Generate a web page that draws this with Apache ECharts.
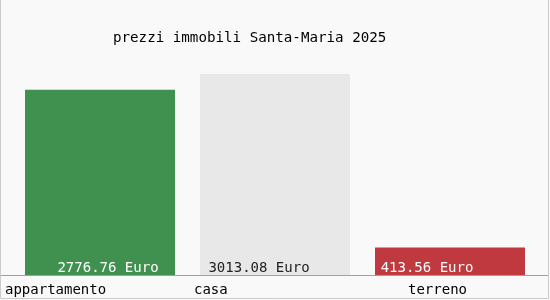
<!DOCTYPE html>
<html>
<head>
<meta charset="utf-8">
<script src="https://cdn.jsdelivr.net/npm/echarts@6/dist/echarts.min.js"></script>
<style>
html,body{margin:0;padding:0;background:#f9f9f9;}
#c{width:550px;height:300px;}
</style>
</head>
<body>
<div id="c"></div>
<script>
var title = 'prezzi immobili Santa-Maria 2025';
var categories = ['appartamento', 'casa', 'terreno'];
var values = [2776.76, 3013.08, 413.56];
var unit = 'Euro';

var barColors = ['#40914f', '#e8e8e8', '#c0393e'];
var labelColors = ['#ffffff', '#222222', '#ffffff'];
var labelOffsets = [[8, 0], [-16, 0], [-23, 0]];
var catKeys = ['c0', 'c1', 'c2'];
var catWidths = [190, 162, 84];

var font = "'DejaVu Sans Mono', monospace";
var rich = {};
catKeys.forEach(function (k, i) {
  rich[k] = { width: catWidths[i], align: 'left', fontFamily: font, fontSize: 14, color: '#000' };
});

var chart = echarts.init(document.getElementById('c'));
chart.setOption({
  backgroundColor: '#f9f9f9',
  animation: false,
  title: {
    text: title,
    left: 108,
    top: 26,
    textStyle: { fontFamily: font, fontSize: 14.2, fontWeight: 'normal', color: '#000' }
  },
  grid: { left: 12.5, right: 12.5, top: 74, bottom: 25, containLabel: false },
  xAxis: {
    type: 'category',
    data: categories,
    axisLine: { show: false },
    axisTick: { show: false },
    axisLabel: {
      interval: 0,
      margin: 8,
      formatter: function (v, i) { return '{' + catKeys[i] + '|' + v + '}'; },
      rich: rich
    }
  },
  yAxis: {
    type: 'value',
    min: 0,
    max: Math.max.apply(null, values),
    show: false,
    splitLine: { show: false }
  },
  series: [{
    type: 'bar',
    barWidth: 150,
    data: values.map(function (v, i) {
      return {
        value: v,
        itemStyle: { color: barColors[i] },
        label: { color: labelColors[i], offset: labelOffsets[i] }
      };
    }),
    label: {
      show: true,
      position: 'insideBottom',
      distance: 0,
      fontFamily: font,
      fontSize: 14,
      formatter: function (p) { return p.value.toFixed(2) + ' ' + unit; }
    }
  }],
  graphic: [
    { type: 'line', silent: true, shape: { x1: 0, y1: 275.5, x2: 548, y2: 275.5 }, style: { stroke: '#a0a0a0', lineWidth: 1 } },
    { type: 'polyline', silent: true, shape: { points: [[0.5, 0], [0.5, 298.5], [548.5, 298.5], [548.5, 0]] }, style: { stroke: '#cccccc', lineWidth: 1, fill: null } }
  ]
});
</script>
</body>
</html>
